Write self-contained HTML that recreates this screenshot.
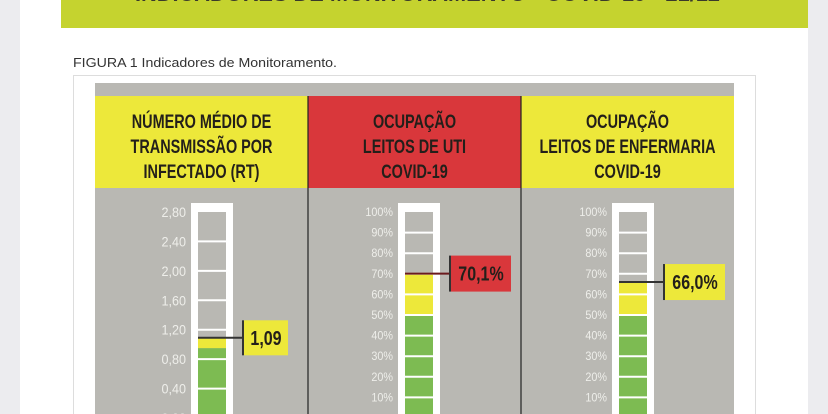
<!DOCTYPE html>
<html><head><meta charset="utf-8"><style>
html,body{margin:0;padding:0;width:828px;height:414px;overflow:hidden;background:#ececef;}
svg{display:block}
</style></head><body>
<svg width="828" height="414" xmlns="http://www.w3.org/2000/svg" id="root">
<rect x="20" y="0" width="788" height="414" fill="#ffffff"/>
<rect x="61" y="0" width="747" height="28" fill="#c5d32f"/>
<text x="135" y="1" textLength="585" lengthAdjust="spacingAndGlyphs" font-family="'Liberation Sans',sans-serif" font-weight="bold" font-size="22" fill="#3a3a2a">INDICADORES DE MONITORAMENTO - COVID-19 - 21/12</text>
<text x="73" y="67" textLength="264" lengthAdjust="spacingAndGlyphs" font-family="'Liberation Sans',sans-serif" font-size="12.5" fill="#333">FIGURA 1 Indicadores de Monitoramento.</text>
<rect x="73.5" y="75.5" width="682" height="345" fill="#fff" stroke="#ddd"/>
<rect x="95" y="83" width="639" height="13" fill="#b9b8b3"/>
<g id="panels"></g>
</svg>
<script>
const titles = [["NÚMERO MÉDIO DE","TRANSMISSÃO POR","INFECTADO (RT)"],["OCUPAÇÃO","LEITOS DE UTI","COVID-19"],["OCUPAÇÃO","LEITOS DE ENFERMARIA","COVID-19"]];
const headerColors = ["#ede83a","#d9373b","#ede83a"];
const axisMax = [2.8, 100, 100];
const tickLabels1 = ["0,00","0,40","0,80","1,20","1,60","2,00","2,40","2,80"];
const tickValues1 = [0,0.4,0.8,1.2,1.6,2.0,2.4,2.8];
const tickLabelsPct = ["","10%","20%","30%","40%","50%","60%","70%","80%","90%","100%"];
const tickValuesPct = [0,10,20,30,40,50,60,70,80,90,100];
const greenLimits = [0.95, 50, 50];
const values = [1.09, 70.1, 66.0];
const valueLabels = ["1,09","70,1%","66,0%"];
const boxColors = ["#ede83a","#d9373b","#ede83a"];
const lineColors = ["#333","#6b1a1e","#333"];

const NS="http://www.w3.org/2000/svg";
const g=document.getElementById('panels');
function el(t,a,p){const e=document.createElementNS(NS,t);for(const k in a)e.setAttribute(k,a[k]);(p||g).appendChild(e);return e;}
function squeeze(e,cx,s){e.setAttribute('transform','translate('+cx+',0) scale('+s+',1) translate('+(-cx)+',0)');}
const colX=[95,308,521], colW=213;
const tubeOff=[96,90,91];
const yTop=212, yZero=418;
const FONT="'Liberation Sans',sans-serif";
for(let i=0;i<3;i++){
  const x0=colX[i];
  const y=v=>yZero-(v/axisMax[i])*(yZero-yTop);
  const body=el('rect',{x:x0,y:188,width:colW,height:230,fill:'#b9b8b3'});
  
  
  const hd=el('rect',{x:x0,y:96,width:colW,height:92,fill:headerColors[i]});
  
  
  titles[i].forEach((s,j)=>{
    const cx=x0+colW/2;
    const t=el('text',{x:cx,y:128+j*25,'text-anchor':'middle','font-family':FONT,'font-weight':'bold','font-size':'19',fill:'#231f1a'});
    t.textContent=s;
    squeeze(t,cx,0.76);
    
    
  });
  const tx=x0+tubeOff[i];
  const tube=el('rect',{x:tx,y:203,width:42,height:220,fill:'#fff'});
  
  
  const ix=tx+7, iw=28;
  el('rect',{x:ix,y:yTop,width:iw,height:yZero-yTop,fill:'#b9b8b3'});
  const gr=el('rect',{x:ix,y:y(greenLimits[i]),width:iw,height:yZero-y(greenLimits[i]),fill:'#7dbb52'});
  
  
  const ye=el('rect',{x:ix,y:y(values[i]),width:iw,height:y(greenLimits[i])-y(values[i]),fill:'#ede83a'});
  
  
  const tv=i===0?tickValues1:tickValuesPct, tl=i===0?tickLabels1:tickLabelsPct;
  tv.forEach((v,k)=>{
    if(v>0&&v<axisMax[i]) el('line',{x1:ix,x2:ix+iw,y1:y(v),y2:y(v),stroke:'#fff','stroke-width':2});
    if(tl[k]){
      const t=el('text',{x:tx-5,y:y(v)+(i===0?5:4),'text-anchor':'end','font-family':FONT,'font-size':i===0?'14':'12',fill:'#eeeeea'});
      t.textContent=tl[k];
      squeeze(t,tx-5,0.9);
      
      
    }
  });
  const vy=y(values[i]);
  const bx=tx+52, bw=i===0?44:60, bh=i===0?35:36, by=vy-bh/2;
  el('line',{x1:ix,x2:bx,y1:vy,y2:vy,stroke:lineColors[i],'stroke-width':2});
  el('line',{x1:bx,x2:bx,y1:by,y2:by+bh,stroke:'#333','stroke-width':2});
  const box=el('rect',{x:bx+1,y:by,width:bw,height:bh,fill:boxColors[i]});
  
  
  const cx=bx+1+bw/2;
  const vt=el('text',{x:cx,y:vy+7,'text-anchor':'middle','font-family':FONT,'font-weight':'bold','font-size':'20',fill:'#231f1a'});
  vt.textContent=valueLabels[i];
  squeeze(vt,cx,0.8);
  
  
}
el('line',{x1:308,x2:308,y1:96,y2:414,stroke:'#222','stroke-width':1.2});
el('line',{x1:521,x2:521,y1:96,y2:414,stroke:'#222','stroke-width':1.2});
</script>
</body></html>
